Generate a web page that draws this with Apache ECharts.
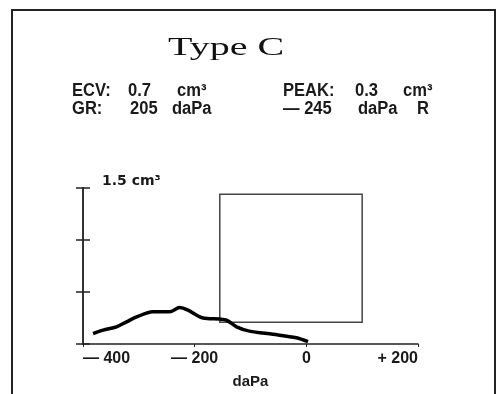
<!DOCTYPE html>
<html>
<head>
<meta charset="utf-8">
<script src="https://cdn.jsdelivr.net/npm/echarts@6/dist/echarts.min.js"></script>
<style>html,body{margin:0;padding:0;background:#fff}#c{width:497px;height:394px}</style>
</head>
<body>
<div id="c"></div>
<script>
// Tympanogram curve: pressure (daPa) vs. compliance (cm³)
const pressure = [-382, -364, -340, -322, -304, -275, -245, -227, -212, -185, -155, -143, -125, -102, -60, -18, 3];
const volume   = [0.10, 0.134, 0.165, 0.213, 0.26, 0.31, 0.31, 0.35, 0.325, 0.25, 0.24, 0.23, 0.165, 0.124, 0.093, 0.06, 0.022];
// Normal region box
const boxPressure = [-155, 100];
const boxVolume = [0.21, 1.44];
// Axis tick labels
const xTickValues = [-400, -200, 0, 200];
const xTickLabels = ['— 400', '— 200', '0', '+ 200'];
const yTopLabel = '1.5 cm³';

const chart = echarts.init(document.getElementById('c'), null, {renderer: 'canvas'});
const sans = 'Liberation Sans, Arial, sans-serif';
const txt = (x, y, s) => ({
  type: 'text', x: x, y: y, scaleX: 0.92,
  style: {text: s, font: 'bold 18px ' + sans, fill: '#1a1a1a', textVerticalAlign: 'top'}
});

chart.setOption({
  backgroundColor: '#fff',
  animation: false,
  grid: {left: 83, right: 79, top: 188, bottom: 50},
  xAxis: {
    type: 'value', min: -400, max: 200, interval: 200,
    axisLine: {onZero: false, lineStyle: {color: '#222', width: 1.5}},
    axisTick: {show: true, length: 3, lineStyle: {color: '#222'}},
    splitLine: {show: false},
    axisLabel: {
      margin: 7, color: '#1a1a1a', fontSize: 16, fontWeight: 'bold', fontFamily: sans,
      alignMinLabel: 'left', alignMaxLabel: 'right',
      formatter: v => { const i = xTickValues.indexOf(v); return i >= 0 ? xTickLabels[i] : ''; }
    },
    name: 'daPa', nameLocation: 'middle', nameGap: 30,
    nameTextStyle: {color: '#1a1a1a', fontSize: 15, fontWeight: 'bold', fontFamily: sans}
  },
  yAxis: [{
    type: 'value', min: 0, max: 1.5, interval: 0.5,
    axisLine: {show: true, onZero: false, lineStyle: {color: '#333', width: 2}},
    axisTick: {show: true, length: 7, lineStyle: {color: '#222', width: 1.5}},
    splitLine: {show: false},
    axisLabel: {
      inside: true, margin: 19, verticalAlign: 'bottom',
      color: '#1a1a1a', fontSize: 14, fontWeight: 'bold', fontFamily: 'DejaVu Sans, sans-serif',
      formatter: v => (v === 1.5 ? yTopLabel : '')
    }
  }, {
    type: 'value', min: 0, max: 1.5, interval: 0.5, position: 'left',
    axisLine: {show: false, onZero: false},
    axisTick: {show: true, inside: true, length: 7, lineStyle: {color: '#222', width: 1.5}},
    axisLabel: {show: false}, splitLine: {show: false}
  }],
  series: [{
    type: 'line',
    yAxisIndex: 0,
    data: pressure.map((p, i) => [p, volume[i]]),
    smooth: 0.3,
    showSymbol: false,
    lineStyle: {color: '#000', width: 3.5},
    markArea: {
      silent: true,
      itemStyle: {color: 'rgba(0,0,0,0)', borderColor: '#444', borderWidth: 1.5},
      data: [[{xAxis: boxPressure[0], yAxis: boxVolume[0]}, {xAxis: boxPressure[1], yAxis: boxVolume[1]}]]
    }
  }],
  graphic: [
    {type: 'rect', shape: {x: 12, y: 10, width: 483, height: 400}, style: {fill: 'none', stroke: '#222', lineWidth: 2}},
    {type: 'text', x: 168, y: 36, scaleX: 1.6, style: {text: 'Type C', font: '25px Liberation Serif, serif', fill: '#111', textVerticalAlign: 'top'}},
    txt(72, 82, 'ECV:'), txt(128, 82, '0.7'), txt(177, 82, 'cm³'),
    txt(72, 100, 'GR:'), txt(130, 100, '205'), txt(172, 100, 'daPa'),
    txt(283, 82, 'PEAK:'), txt(355, 82, '0.3'), txt(403, 82, 'cm³'),
    txt(283, 100, '— 245'), txt(358, 100, 'daPa'), txt(417, 100, 'R')
  ]
});
</script>
</body>
</html>
